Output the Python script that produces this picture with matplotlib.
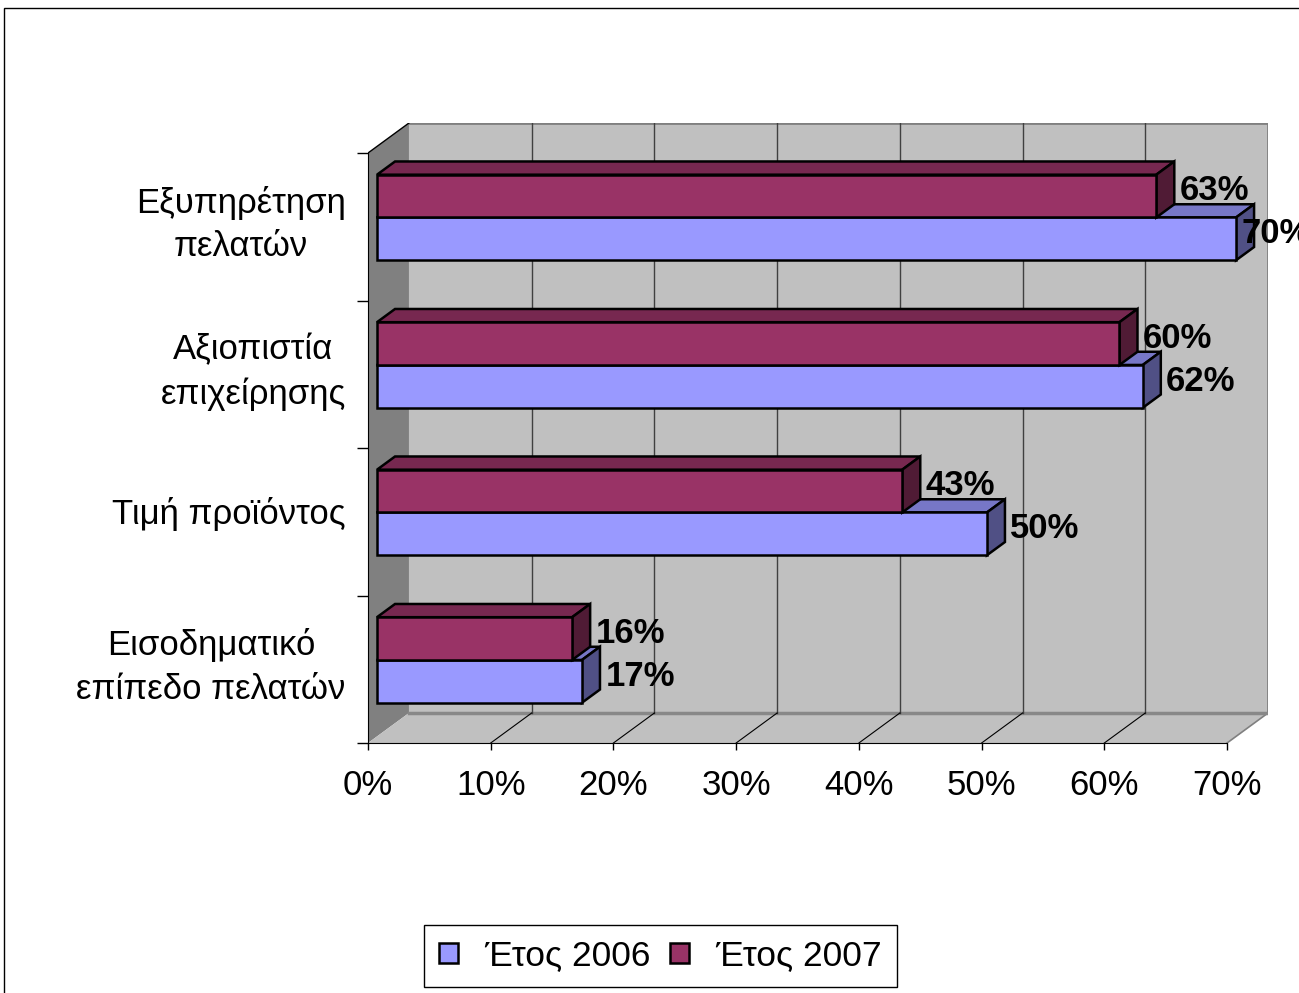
import matplotlib
matplotlib.use('Agg')
import matplotlib.pyplot as plt
from matplotlib.patches import Polygon, Patch, Rectangle

plt.rcParams['font.family'] = ['Liberation Sans', 'DejaVu Sans']

# data (bottom -> top as drawn)
categories = ['Εισοδηματικό\nεπίπεδο πελατών', 'Τιμή προϊόντος',
              'Αξιοπιστία\nεπιχείρησης', 'Εξυπηρέτηση\nπελατών']
year_2006 = [16.7, 49.7, 62.4, 70.0]
year_2007 = [15.9, 42.8, 60.5, 63.5]
labels_2006 = ['17%', '50%', '62%', '70%']
labels_2007 = ['16%', '43%', '60%', '63%']
series_names = ['Έτος 2006', 'Έτος 2007']
xticks = [0, 10, 20, 30, 40, 50, 60, 70]

blue = '#9999ff'
red = '#993366'

def shade(c, f):
    c = matplotlib.colors.to_rgb(c)
    return tuple(v * f for v in c)

# 3d look: depth offset of the walls in data units
DX, DY = 3.337, 0.2034
XMAX, NCAT = 70, 4
# bars sit a bit behind the front plane and have some depth
bx0, bdx, bdy = 0.734, 1.468, 0.0895
bar_h = 0.29

W, H = 1299, 993
fig = plt.figure(figsize=(W / 100, H / 100), dpi=100)
ax = fig.add_axes([368 / W, (H - 743) / H, 900 / W, 620 / H])
ax.set_xlim(0, XMAX + DX)
ax.set_ylim(0, NCAT + DY)
ax.patch.set_alpha(0)

# left wall, floor, back wall
ax.add_patch(Polygon([(0, 0), (0, NCAT), (DX, NCAT + DY), (DX, DY)],
                     closed=True, fc='#808080', ec='none', zorder=1))
ax.add_patch(Polygon([(0, 0), (DX, DY), (XMAX + DX, DY), (XMAX, 0)],
                     closed=True, fc='#c0c0c0', ec='none', zorder=1))
ax.add_patch(Rectangle((DX, DY), XMAX, NCAT, fc='#c0c0c0', ec='none', zorder=1))
ax.plot([DX, XMAX + DX, XMAX + DX], [NCAT + DY, NCAT + DY, DY], color='#808080', lw=2, zorder=2)
ax.plot([XMAX, XMAX + DX], [0, DY], color='#808080', lw=1.2, zorder=2)
ax.plot([DX, XMAX + DX], [DY, DY], color='#888888', lw=2.5, zorder=2)
ax.plot([0, DX], [NCAT, NCAT + DY], color='black', lw=1, zorder=2)
for t in xticks[1:-1]:
    ax.plot([t + DX, t + DX], [DY, NCAT + DY], color='#404040', lw=1, zorder=2)
for t in xticks[1:]:
    if t < XMAX:
        ax.plot([t, t + DX], [0, DY], color='black', lw=0.8, zorder=2)


def box(x_end, y0, y1, color):
    x0 = bx0
    front = [(x0, y0), (x_end, y0), (x_end, y1), (x0, y1)]
    top = [(x0, y1), (x_end, y1), (x_end + bdx, y1 + bdy), (x0 + bdx, y1 + bdy)]
    side = [(x_end, y0), (x_end + bdx, y0 + bdy), (x_end + bdx, y1 + bdy), (x_end, y1)]
    for pts, f in ((top, 0.78), (side, 0.52), (front, 1.0)):
        ax.add_patch(Polygon(pts, closed=True, fc=shade(color, f), ec='black',
                             lw=1.8, joinstyle='miter', zorder=3))


for i in range(NCAT):
    c = i + 0.5 + 0.063
    v6, v7 = year_2006[i], year_2007[i]
    box(v6 + bx0, c - bar_h, c, blue)
    box(v7 + bx0, c, c + bar_h, red)
    for v, yc, lab in ((v6, c - bar_h / 2, labels_2006[i]), (v7, c + bar_h / 2, labels_2007[i])):
        ax.text(min(v + bx0 + 1.9, 71.2), yc + 0.035, lab, fontsize=25,
                fontweight='bold', ha='left', va='center', zorder=5)

# axes lines and ticks
for s in ('top', 'right'):
    ax.spines[s].set_visible(False)
ax.spines['bottom'].set_bounds(0, XMAX)
ax.spines['left'].set_bounds(0, NCAT)
ax.spines['bottom'].set_zorder(4)
ax.spines['left'].set_zorder(4)
ax.set_xticks(xticks)
ax.set_xticklabels([f'{t}%' for t in xticks])
ax.tick_params(axis='x', direction='out', length=5, width=1, pad=14, labelsize=25)
ax.set_yticks(range(NCAT + 1))
ax.set_yticklabels([])
ax.tick_params(axis='y', which='major', direction='out', length=8, width=1)
ax.set_yticks([i + 0.575 for i in range(NCAT)], minor=True)
ax.set_yticklabels(categories, minor=True, fontsize=25, multialignment='center',
                   linespacing=1.4)
ax.tick_params(axis='y', which='minor', length=0, pad=16)

# legend
handles = [Patch(fc=blue, ec='black', lw=1.8), Patch(fc=red, ec='black', lw=1.8)]
leg = fig.legend(handles, series_names, loc='center', ncol=2,
                 bbox_to_anchor=(660.5 / W, 1 - 956 / H), fontsize=25.5,
                 fancybox=False, edgecolor='black', framealpha=1,
                 handlelength=0.52, handleheight=0.5, handletextpad=0.75,
                 columnspacing=0.55, borderpad=0.42)
leg.get_frame().set_linewidth(1)

# chart area border
fig.patches.append(Rectangle((4 / W, -0.01), 1.02, 1 - 8 / H + 0.01, transform=fig.transFigure,
                             fill=False, ec='black', lw=1))

fig.savefig('out.png', dpi=100)
